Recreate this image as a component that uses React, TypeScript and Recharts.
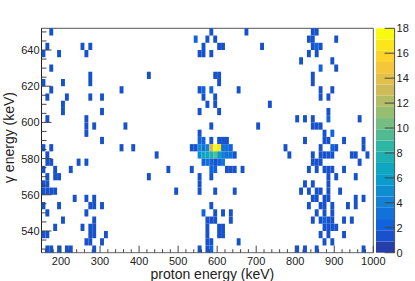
import { BarChart, Bar, ScatterChart, Scatter, XAxis, YAxis, ReferenceLine } from 'recharts';

// bin centres in keV, one list per gamma row (count of 1 unless listed in the peak arrays)
const gammaRows = [650, 646, 642, 638, 634, 630, 626, 622, 618, 614, 610, 606, 602, 598, 594, 590, 586, 582, 578, 574, 570, 566, 562, 558, 554, 550, 546, 542, 538, 534, 530];
const protonRows = [
    [175, 585, 675, 845, 855],
    [575, 595, 835, 845, 905],
    [165, 255, 275, 565, 605, 615, 715, 845, 865],
    [155, 195, 265, 555, 565, 585, 835, 855],
    [815, 895],
    [175, 905],
    [275, 425, 595, 605, 845],
    [155, 205, 275, 605, 845],
    [175, 355, 555, 655, 865, 895],
    [165, 215, 275, 305, 565, 595, 865, 885],
    [205, 575, 595, 735],
    [205, 305, 555, 605, 885],
    [165, 265, 805, 825, 845, 965],
    [265, 285, 365, 585, 705, 845, 855, 865],
    [265, 555, 875],
    [305, 585, 605, 615, 625, 825, 875, 885, 925, 975],
    [155, 175, 355, 385, 535, 545, 775, 865, 905, 975],
    [165, 445, 785, 845, 865, 875, 885, 895, 945, 955, 985],
    [165, 175, 245, 265, 845, 855, 865, 965],
    [155, 185, 225, 475, 535, 625, 635, 645, 665, 835, 855, 875, 885, 895, 925],
    [165, 185, 195, 425, 555, 585, 885, 905, 955],
    [155, 165, 555, 825, 845, 885],
    [155, 165, 175, 185, 495, 555, 595, 645, 815, 835, 855, 865, 885, 915],
    [235, 265, 285, 845, 855, 875, 885, 955, 975],
    [155, 195, 275, 285, 305, 585, 835, 865, 875, 895, 935, 955],
    [165, 265, 595, 615, 635, 855, 875, 895],
    [205, 285, 575, 585, 595, 635, 845, 865, 885, 895, 925, 945],
    [185, 255, 275, 285, 575, 605, 615, 875, 885, 895, 905],
    [155, 165, 275, 285, 315, 575, 605, 615, 865, 885, 925],
    [265, 275, 305, 575, 585, 655, 875, 895],
    [165, 175, 195, 215, 225, 285, 555, 575, 805, 825, 855, 975],
];

// cells holding more than one count
const peakProton = [545, 855, 865, 565, 585, 885, 895, 555, 565, 895, 585, 595, 875, 565, 585,
    555, 565, 575, 585, 595, 605, 615, 625, 635,
    555, 565, 575, 585, 595, 605, 615, 625, 635, 645,
    565, 575, 585, 595, 605, 615];
const peakGamma = [646, 642, 630, 618, 618, 602, 594, 590, 590, 586, 574, 574, 546, 550, 530,
    586, 586, 586, 586, 586, 586, 586, 586, 586,
    582, 582, 582, 582, 582, 582, 582, 582, 582, 582,
    578, 578, 578, 578, 578, 578];
const peakCount = [2, 2, 2, 2, 2, 2, 2, 2, 2, 2, 2, 2, 2, 2, 2,
    5, 3, 4, 13, 18, 17, 3, 3, 2,
    5, 7, 7, 8, 9, 6, 4, 3, 3, 1,
    2, 3, 2, 1, 2, 3];

const xTicks = [160, 180, 200, 220, 240, 260, 280, 300, 320, 340, 360, 380, 400, 420, 440, 460, 480, 500, 520, 540, 560, 580, 600, 620, 640, 660, 680, 700, 720, 740, 760, 780, 800, 820, 840, 860, 880, 900, 920, 940, 960, 980, 1000];
const yTicks = [530, 535, 540, 545, 550, 555, 560, 565, 570, 575, 580, 585, 590, 595, 600, 605, 610, 615, 620, 625, 630, 635, 640, 645, 650];
const zTicks = [0, 2, 4, 6, 8, 10, 12, 14, 16, 18];
const zBands = [0, 1, 2, 3, 4, 5, 6, 7, 8, 9, 10, 11, 12, 13, 14, 15, 16, 17, 18, 19];

const cells = [
    ...protonRows.flatMap((row, i) => row.map((proton) => ({ proton, gamma: gammaRows[i], count: 1 }))),
    ...peakProton.map((proton, i) => ({ proton, gamma: peakGamma[i], count: peakCount[i] })),
];

const plotLeft = 41.5;
const plotTop = 28.3;
const plotWidth = 331.8;
const plotHeight = 224.4;
const cellW = plotWidth / 85;
const cellH = plotHeight / 31;
const font = '"Liberation Sans", Arial, sans-serif';
const tickColor = '#444';
const textColor = '#222';

// ROOT's kBird palette
const birdStops = [
    [0.2082, 0.1664, 0.5293], [0.0592, 0.3599, 0.8684], [0.078, 0.5041, 0.8385],
    [0.0232, 0.6419, 0.7914], [0.1802, 0.7178, 0.6425], [0.5301, 0.7492, 0.4662],
    [0.8186, 0.7328, 0.3499], [0.9956, 0.7862, 0.1968], [0.9764, 0.9832, 0.0539],
];

function bandColor(band: number) {
    const t = Math.min(1, (band + 0.99) / 20) * 8;
    const i = Math.min(7, Math.floor(t));
    const f = t - i;
    const c = birdStops[i].map((v, k) => Math.round((v + (birdStops[i + 1][k] - v) * f) * 255));
    return `rgb(${c[0]},${c[1]},${c[2]})`;
}

function HeatCell(props: any) {
    const { cx, cy, payload } = props;
    const band = Math.min(19, Math.floor(payload.count / 0.9));
    return <rect x={cx - cellW / 2} y={cy - cellH / 2} width={cellW} height={cellH} fill={bandColor(band)} />;
}

function XTick({ x, y, payload }: any) {
    const major = payload.value % 100 === 0;
    return (
        <g>
            <line x1={x} x2={x} y1={y} y2={y - (major ? 7 : 3.5)} stroke={tickColor} />
            {major && <text x={x} y={y + 12} textAnchor="middle" fontSize={11} fontFamily={font} fill={textColor}>{payload.value}</text>}
        </g>
    );
}

function YTick({ x, y, payload }: any) {
    const major = payload.value % 20 === 0;
    return (
        <g>
            <line x1={x} x2={x + (major ? 10 : 5)} y1={y} y2={y} stroke={tickColor} />
            {major && <text x={x - 2} y={y + 4} textAnchor="end" fontSize={11} fontFamily={font} fill={textColor}>{payload.value}</text>}
        </g>
    );
}

function ZTick({ x, y, payload }: any) {
    return (
        <g>
            <line x1={x} x2={x - 10} y1={y} y2={y} stroke={tickColor} />
            <text x={x + 2} y={y + 4} textAnchor="start" fontSize={11} fontFamily={font} fill={textColor}>{payload.value}</text>
        </g>
    );
}

const zRow = [{ name: 'z', ...Object.fromEntries(zBands.map((b) => [`b${b}`, 0.9])) }];

export default function App() {
    return (
        <div style={{ position: 'absolute', left: 0, top: 0, width: 415, height: 281 }}>
            <ScatterChart
                width={415}
                height={281}
                margin={{ top: plotTop, right: 415 - plotLeft - plotWidth, bottom: 0, left: 0 }}
                style={{ position: 'absolute', left: 0, top: 0 }}
            >
                <XAxis
                    type="number"
                    dataKey="proton"
                    domain={[150, 1000]}
                    ticks={xTicks}
                    interval={0}
                    height={281 - plotTop - plotHeight}
                    tickLine={false}
                    tickSize={0}
                    tickMargin={0}
                    tick={XTick}
                    axisLine={{ stroke: '#666' }}
                    label={{ value: 'proton energy (keV)', position: 'insideBottom', offset: 2, dx: 5, fontSize: 14, fontFamily: font, fill: textColor }}
                />
                <YAxis
                    type="number"
                    dataKey="gamma"
                    domain={[528, 652]}
                    ticks={yTicks}
                    interval={0}
                    width={plotLeft}
                    tickLine={false}
                    tickSize={0}
                    tickMargin={0}
                    tick={YTick}
                    axisLine={{ stroke: '#222' }}
                    label={{ value: 'γ energy (keV)', angle: -90, position: 'insideLeft', offset: 9, dy: -3, style: { textAnchor: 'middle' }, fontSize: 14, fontFamily: font, fill: textColor }}
                />
                <ReferenceLine y={652} stroke="#555" />
                <ReferenceLine x={1000} stroke="#555" />
                <Scatter data={cells} shape={HeatCell} isAnimationActive={false} />
            </ScatterChart>
            <BarChart
                width={40}
                height={281}
                data={zRow}
                barCategoryGap={0}
                margin={{ top: plotTop, right: 0, bottom: 281 - plotTop - plotHeight, left: 0 }}
                style={{ position: 'absolute', left: 375.7, top: 0 }}
            >
                <XAxis dataKey="name" hide />
                <YAxis
                    orientation="right"
                    type="number"
                    domain={[0, 18]}
                    ticks={zTicks}
                    interval={0}
                    width={40 - 18.6}
                    tickLine={false}
                    tickSize={0}
                    tickMargin={0}
                    tick={ZTick}
                    axisLine={{ stroke: '#555' }}
                />
                {zBands.map((b) => (
                    <Bar key={b} dataKey={`b${b}`} stackId="z" fill={bandColor(b)} isAnimationActive={false} />
                ))}
            </BarChart>
        </div>
    );
}
